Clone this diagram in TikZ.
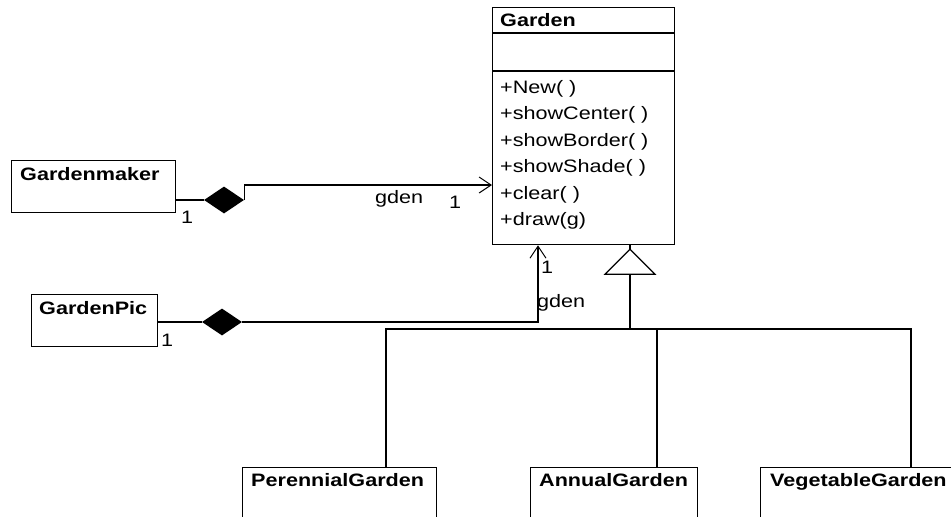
\documentclass[tikz,border=0pt]{standalone}
\usepackage{fontspec}
\setmainfont{Liberation Sans}[FakeStretch=1.2]
\usetikzlibrary{arrows.meta,shapes.geometric,calc}
\begin{document}
\begin{tikzpicture}[x=1pt,y=-1pt,
  box/.style={draw=black,line width=1.3pt,rectangle,inner sep=0pt,anchor=north west},
  txt/.style={inner sep=0pt,anchor=base west,font=\fontsize{18pt}{21pt}\selectfont},
  btxt/.style={inner sep=0pt,anchor=base west,font=\fontsize{18pt}{21pt}\selectfont\bfseries},
  link/.style={line width=1.2pt},
  comp/.style={diamond,fill=black,inner sep=0pt,minimum width=40pt,minimum height=27pt},
  nav/.style={link,-{Straight Barb[length=12pt,width=16pt,line width=1pt]}}]
\useasboundingbox (0,0) rectangle (951,517);
\clip (0,0) rectangle (951,517);

% Garden class
\node[box,minimum width=182pt,minimum height=237pt] (garden) at (492,7) {};
\draw[link] ($(garden.north west)+(0,26)$) -- ($(garden.north east)+(0,26)$);
\draw[link] ($(garden.north west)+(0,64)$) -- ($(garden.north east)+(0,64)$);
\node[btxt] (gtitle) at (500,26) {Garden};
\foreach \t [count=\i from 0] in {+New( ),+showCenter( ),+showBorder( ),+showShade( ),+clear( ),+draw(g)}
  \node[txt] (op\i) at (500,{93+26.5*\i}) {\t};

% Gardenmaker
\node[box,minimum width=164pt,minimum height=52pt] (gm) at (11,160) {};
\node[btxt] (gmt) at (20,180) {Gardenmaker};
\node[comp] (d1) at (224,200) {};
\draw[link] (gm.east |- d1.west) -- (d1.west);
\coordinate (k1) at ($(d1.east)+(0,-15)$);
\draw[nav] (d1.east) -- (k1) -- (k1 -| garden.west);
\node[txt] (l1) at (181,223) {1};
\node[txt] (gden1) at (375,203) {gden};
\node[txt] (m1) at (449,208) {1};

% GardenPic
\node[box,minimum width=126pt,minimum height=52pt] (gp) at (31,294) {};
\node[btxt] (gpt) at (39,314) {GardenPic};
\node[comp] (d2) at (222,322) {};
\draw[link] (gp.east |- d2.west) -- (d2.west);
\coordinate (gtgt) at ($(garden.south west)+(46,0)$);
\draw[nav] (d2.east) -| (gtgt);
\node[txt] (l2) at (161,346) {1};
\node[txt] (m2) at (541,273) {1};
\node[txt] (gden2) at (537,307) {gden};

% Generalization
\coordinate (gbot) at ($(garden.south west)+(138,0)$);
\coordinate (apex) at ($(gbot)+(0,4)$);
\draw[link] (gbot) -- (apex);
\draw[link,fill=white] (apex) -- ++(25,25) -- ++(-50,0) -- cycle;
\coordinate (tbase) at ($(apex)+(0,25)$);

% Subclasses
\node[box,minimum width=194pt,minimum height=80pt] (pg) at (242,467) {};
\node[box,minimum width=167pt,minimum height=80pt] (ag) at (530,467) {};
\node[box,minimum width=220pt,minimum height=80pt] (vg) at (760,467) {};
\node[btxt] (pgt) at (251,486) {PerennialGarden};
\node[btxt] (agt) at (539,486) {AnnualGarden};
\node[btxt] (vgt) at (770,486) {VegetableGarden};

\coordinate (pgtop) at ($(pg.north west)+(144,0)$);
\coordinate (agtop) at ($(ag.north west)+(127,0)$);
\coordinate (vgtop) at ($(vg.north west)+(151,0)$);
\coordinate (bus) at (0,329);
\draw[link] (pgtop) -- (pgtop |- bus) -- (vgtop |- bus) -- (vgtop);
\draw[link] (agtop) -- (agtop |- bus);
\draw[link] (tbase) -- (tbase |- bus);
\end{tikzpicture}
\end{document}
